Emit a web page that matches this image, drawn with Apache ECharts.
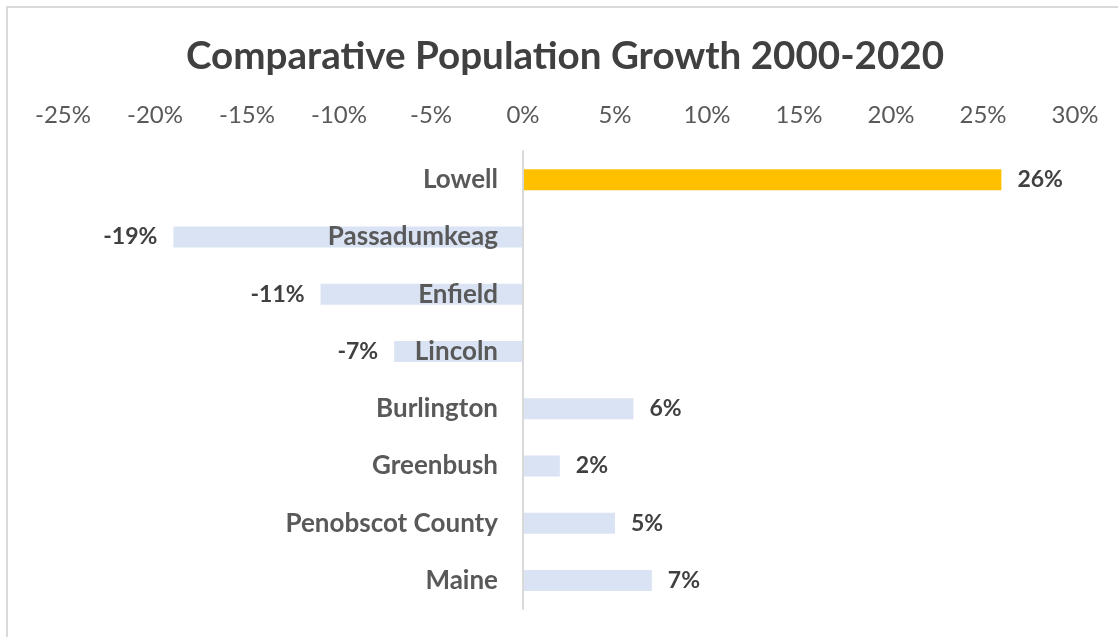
<!DOCTYPE html>
<html>
<head>
<meta charset="utf-8">
<script src="https://cdn.jsdelivr.net/npm/echarts@6/dist/echarts.min.js"></script>
<style>
  html, body { margin: 0; padding: 0; background: #fff; overflow: hidden; }
  #frame {
    position: absolute; left: 6px; top: 6px; width: 1200px; height: 700px;
    border-left: 2px solid #d9d9d9; border-top: 2px solid #d9d9d9;
  }
  #chart { position: absolute; left: 0; top: 0; width: 1118px; height: 637px; }
</style>
</head>
<body>
<div id="frame"></div>
<div id="chart"></div>
<script>
// categories, top to bottom
const places = ["Lowell", "Passadumkeag", "Enfield", "Lincoln", "Burlington", "Greenbush", "Penobscot County", "Maine"];
// growth 2000-2020, in percent
const growth = [26, -19, -11, -7, 6, 2, 5, 7];
const barColors = ["#FFC000", "#DAE3F3", "#DAE3F3", "#DAE3F3", "#DAE3F3", "#DAE3F3", "#DAE3F3", "#DAE3F3"];
// x axis range
const xMin = -25, xMax = 30, xStep = 5;

const font = "Lato, 'Open Sans', sans-serif";
const gridLeft = 63, gridRight = 43;

const chart = echarts.init(document.getElementById("chart"));

// pixel distance from the grid's left edge to zero, so the category axis sits at 0%
const plotWidth = 1118 - gridLeft - gridRight;
const zeroShift = plotWidth * (0 - xMin) / (xMax - xMin);

const option = {
  animation: false,
  title: {
    text: "Comparative Population Growth 2000-2020",
    left: 181,
    top: 32,
    textStyle: { fontFamily: font, fontSize: 38.6, fontWeight: "bold", color: "#404040" }
  },
  grid: { left: gridLeft, right: gridRight, top: 151, height: 458, containLabel: false, outerBoundsMode: "none" },
  xAxis: {
    type: "value",
    position: "top",
    min: xMin,
    max: xMax,
    interval: xStep,
    axisLine: { show: false },
    axisTick: { show: false },
    splitLine: { show: false },
    axisLabel: {
      margin: 24,
      formatter: (v) => v + "%",
      fontFamily: font,
      fontSize: 24,
      color: "#595959"
    }
  },
  yAxis: {
    type: "category",
    inverse: true,
    data: places,
    z: 10,
    offset: -zeroShift,
    axisLine: { show: true, onZero: false, lineStyle: { color: "#d9d9d9", width: 2 } },
    axisTick: { show: false },
    axisLabel: {
      margin: 25,
      fontFamily: font,
      fontSize: 26,
      fontWeight: "bold",
      color: "#595959"
    }
  },
  series: [
    {
      type: "bar",
      barWidth: 21,
      data: growth.map((v, i) => ({
        value: v,
        itemStyle: { color: barColors[i] },
        label: { position: v < 0 ? "left" : "right" }
      })),
      label: {
        show: true,
        distance: 16,
        formatter: (p) => p.value + "%",
        fontFamily: font,
        fontSize: 23,
        fontWeight: "bold",
        color: "#404040"
      }
    }
  ]
};

chart.setOption(option);
</script>
</body>
</html>
